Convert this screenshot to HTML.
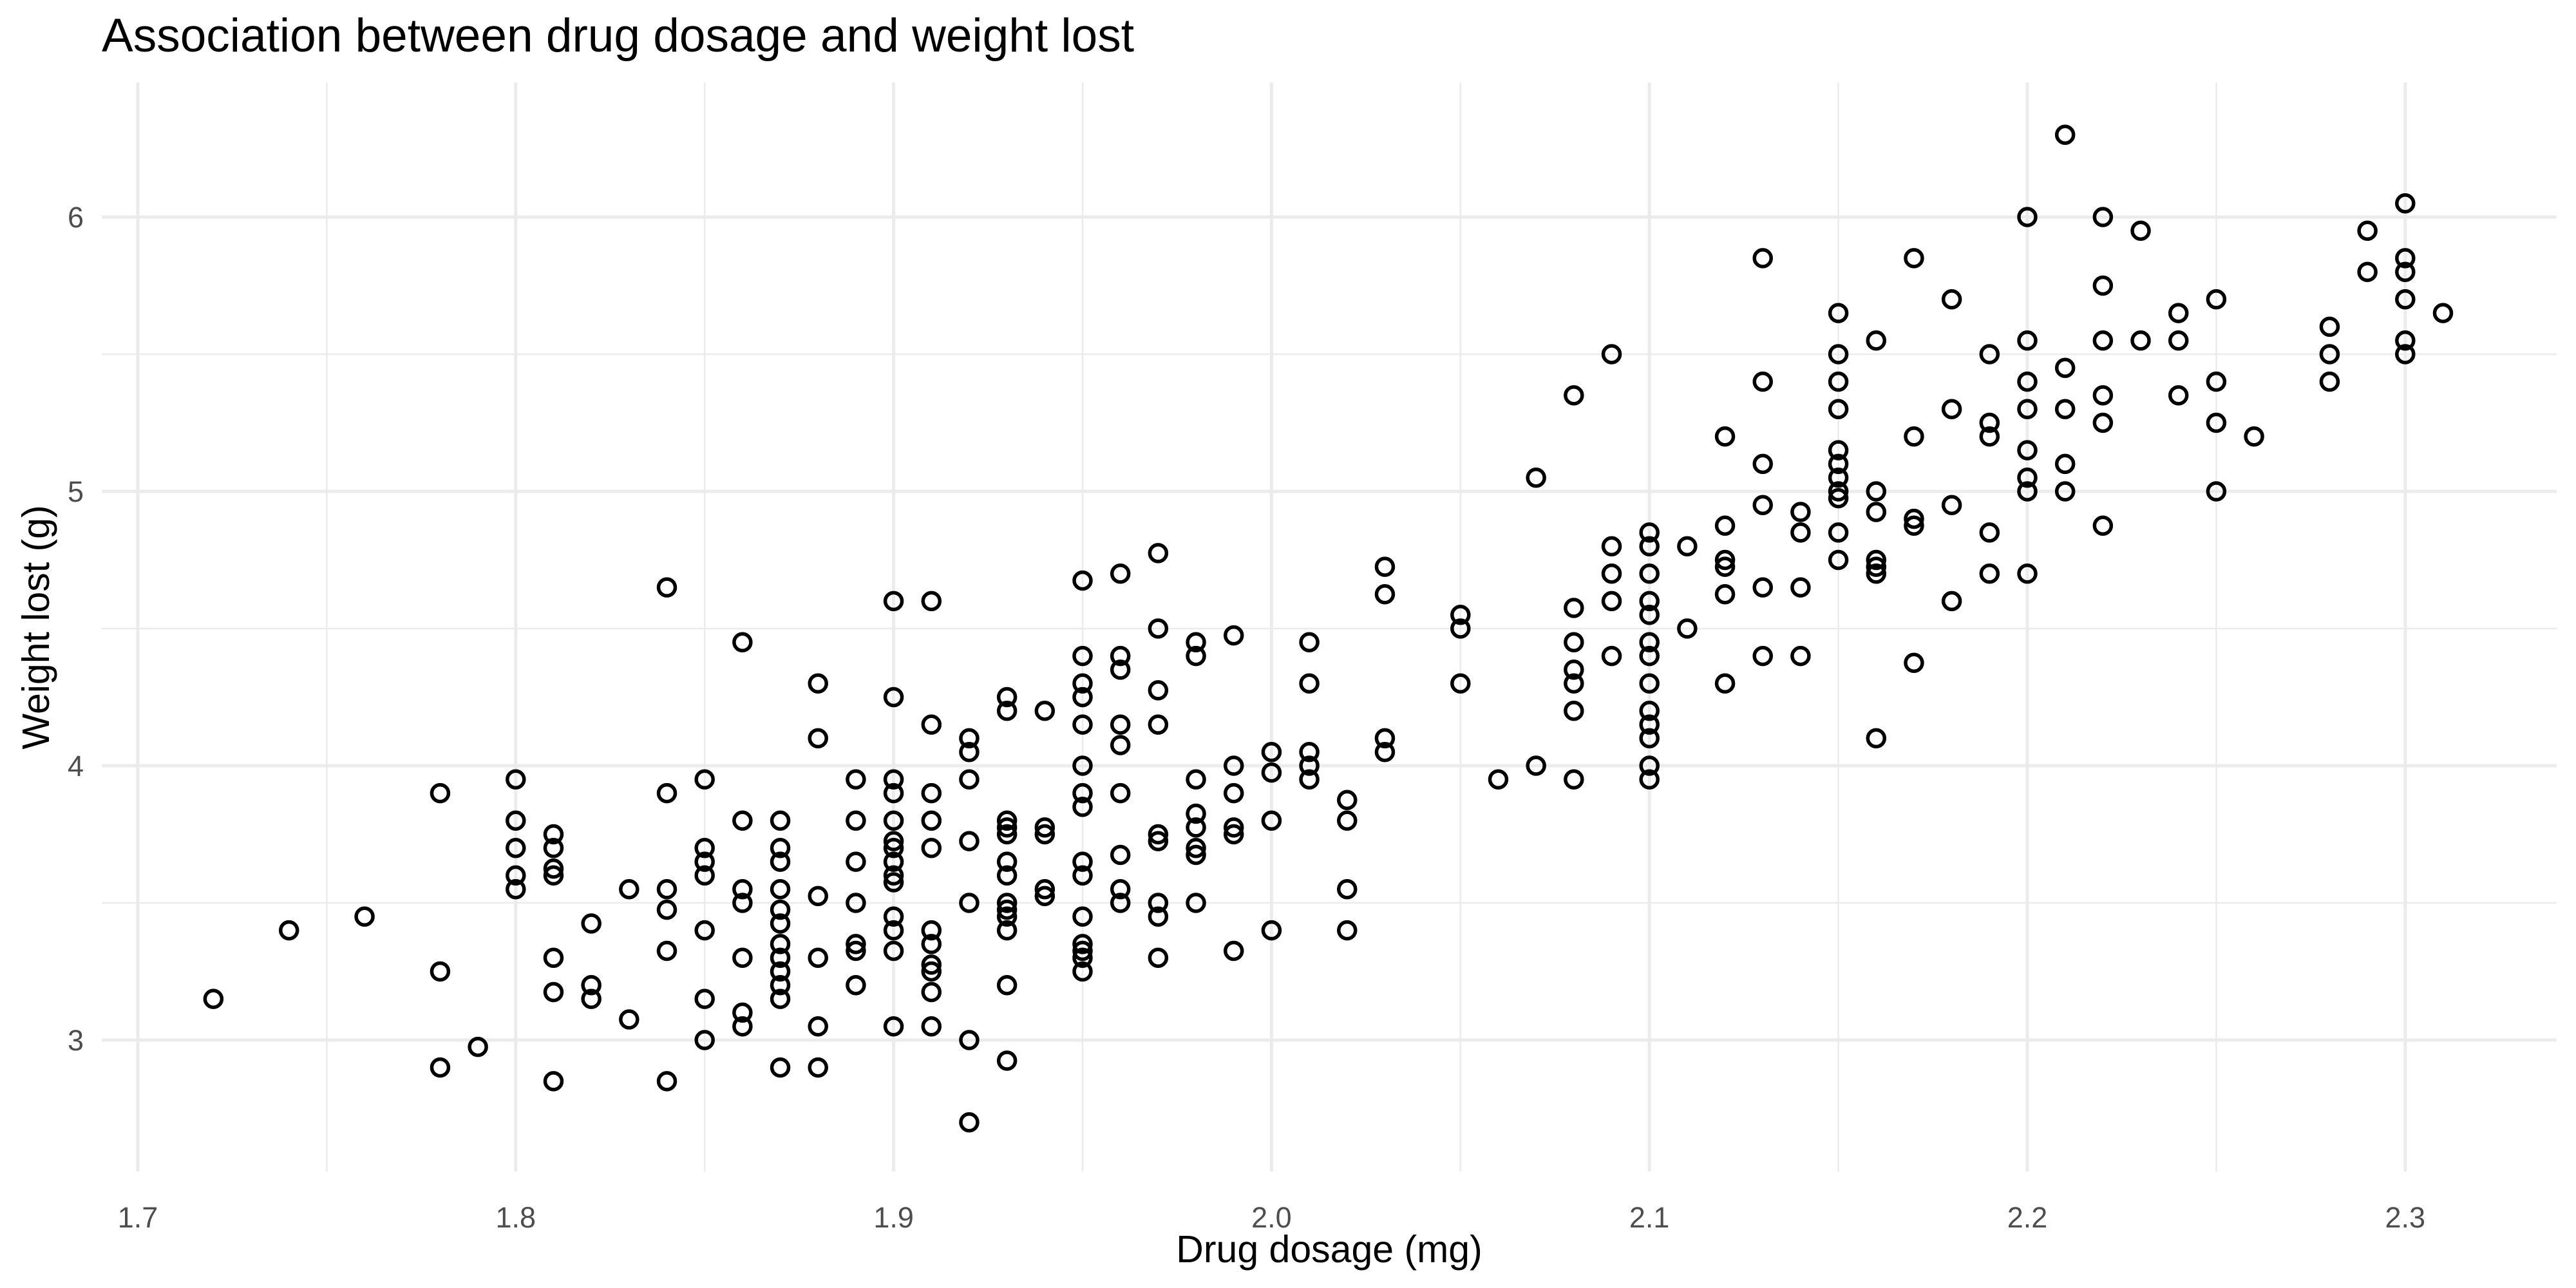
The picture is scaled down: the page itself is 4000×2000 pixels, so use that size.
<!DOCTYPE html>
<html><head><meta charset="utf-8"><style>
html,body{margin:0;padding:0;background:#fff;}
svg{display:block;font-family:"Liberation Sans",sans-serif;}
</style></head><body>
<svg id="chart" width="4000" height="2000" viewBox="0 0 4000 2000" xmlns="http://www.w3.org/2000/svg">
<rect x="0" y="0" width="4000" height="2000" fill="#fff"/>
<g id="grid"></g>
<g id="points"></g>
<g id="ticks"></g>
<text x="158" y="80" font-size="73" fill="#000">Association between drug dosage and weight lost</text>
<text x="2064" y="1960" font-size="59" fill="#000" text-anchor="middle">Drug dosage (mg)</text>
<text x="0" y="0" font-size="59" fill="#000" text-anchor="middle" transform="translate(76,974) rotate(-90)">Weight lost (g)</text>
</svg>
<script>
const xTicks = [1.7, 1.8, 1.9, 2.0, 2.1, 2.2, 2.3];
const xTickLabels = ["1.7","1.8","1.9","2.0","2.1","2.2","2.3"];
const xMinor = [1.75, 1.85, 1.95, 2.05, 2.15, 2.25];
const yTicks = [3, 4, 5, 6];
const yTickLabels = ["3","4","5","6"];
const yMinor = [3.5, 4.5, 5.5];
const dosage = [1.72,1.74,1.76,1.78,1.79,1.80,1.81,1.82,1.83,1.84,1.85,1.86,1.87,1.88,1.89,1.90,1.91,1.92,1.93,1.94,1.95,1.96,1.97,1.98,1.99,2.00,2.01,2.02,2.03,2.05,2.06,2.07,2.08,2.09,2.10,2.11,2.12,2.13,2.14,2.15,2.16,2.17,2.18,2.19,2.20,2.21,2.22,2.23,2.24,2.25,2.26,2.28,2.29,2.30,2.31];
const weightLost = [
[3.15],[3.40],[3.45],[3.90,3.25,2.90],[2.975],
[3.95,3.80,3.70,3.60,3.55],
[3.75,3.70,3.625,3.60,3.30,3.175,2.85],
[3.425,3.20,3.15],[3.55,3.075],
[4.65,3.90,3.55,3.475,3.325,2.85],
[3.95,3.70,3.65,3.60,3.40,3.15,3.00],
[4.45,3.80,3.55,3.50,3.30,3.10,3.05],
[3.80,3.70,3.65,3.55,3.475,3.425,3.35,3.30,3.25,3.20,3.15,2.90],
[4.30,4.10,3.525,3.30,3.05,2.90],
[3.95,3.80,3.65,3.50,3.35,3.325,3.20],
[4.60,4.25,3.95,3.90,3.80,3.725,3.70,3.65,3.60,3.575,3.45,3.40,3.325,3.05],
[4.60,4.15,3.90,3.80,3.70,3.40,3.35,3.275,3.25,3.175,3.05],
[4.10,4.05,3.95,3.725,3.50,3.00,2.70],
[4.25,4.20,3.80,3.775,3.75,3.65,3.60,3.50,3.475,3.45,3.40,3.20,2.925],
[4.20,3.775,3.75,3.55,3.525],
[4.675,4.40,4.30,4.25,4.15,4.00,3.90,3.85,3.65,3.60,3.45,3.35,3.325,3.30,3.25],
[4.70,4.40,4.35,4.15,4.075,3.90,3.675,3.55,3.50],
[4.775,4.50,4.275,4.15,3.75,3.725,3.50,3.45,3.30],
[4.45,4.40,3.95,3.825,3.775,3.70,3.675,3.50],
[4.475,4.00,3.90,3.775,3.75,3.325],
[4.05,3.975,3.80,3.40],
[4.45,4.30,4.05,4.00,3.95],
[3.875,3.80,3.55,3.40],
[4.725,4.625,4.10,4.05],
[4.55,4.50,4.30],[3.95],[5.05,4.00],
[5.35,4.575,4.45,4.35,4.30,4.20,3.95],
[5.50,4.80,4.70,4.60,4.40],
[4.85,4.80,4.70,4.60,4.55,4.45,4.40,4.30,4.20,4.15,4.10,4.00,3.95],
[4.80,4.50],
[5.20,4.875,4.75,4.725,4.625,4.30],
[5.85,5.40,5.10,4.95,4.65,4.40],
[4.925,4.85,4.65,4.40],
[5.65,5.50,5.40,5.30,5.15,5.10,5.05,5.00,4.975,4.85,4.75],
[5.55,5.00,4.925,4.75,4.725,4.70,4.10],
[5.85,5.20,4.90,4.875,4.375],
[5.70,5.30,4.95,4.60],
[5.50,5.25,5.20,4.85,4.70],
[6.00,5.55,5.40,5.30,5.15,5.05,5.00,4.70],
[6.30,5.45,5.30,5.10,5.00],
[6.00,5.75,5.55,5.35,5.25,4.875],
[5.95,5.55],[5.65,5.55,5.35],[5.70,5.40,5.25,5.00],[5.20],
[5.60,5.50,5.40],[5.95,5.80],
[6.05,5.85,5.80,5.70,5.55,5.50],[5.65]
];
const NS = "http://www.w3.org/2000/svg";
const X0 = 158, X1 = 3970, Y0 = 128, Y1 = 1819;
function sx(v){ return 214 + (v - 1.7) * 5868; }
function sy(v){ return 1615 - (v - 3) * 426; }
function mk(tag, attrs, parent){ const e = document.createElementNS(NS, tag); for (const k in attrs) e.setAttribute(k, attrs[k]); parent.appendChild(e); return e; }
const grid = document.getElementById('grid');
const pts = document.getElementById('points');
const ticks = document.getElementById('ticks');
xMinor.forEach(v => { const l = mk('line', {x1:sx(v), x2:sx(v), y1:Y0, y2:Y1, stroke:'#ebebeb', 'stroke-width':2.5}, grid);
  
   });
yMinor.forEach(v => { const l = mk('line', {x1:X0, x2:X1, y1:sy(v), y2:sy(v), stroke:'#ebebeb', 'stroke-width':2.5}, grid);
  
   });
xTicks.forEach((v, i) => { const l = mk('line', {x1:sx(v), x2:sx(v), y1:Y0, y2:Y1, stroke:'#ebebeb', 'stroke-width':5}, grid);
  
  
  const t = mk('text', {x:sx(v), y:1906, 'font-size':45, fill:'#4d4d4d', 'text-anchor':'middle'}, ticks);
  t.textContent = xTickLabels[i];
  
   });
yTicks.forEach((v, i) => { const l = mk('line', {x1:X0, x2:X1, y1:sy(v), y2:sy(v), stroke:'#ebebeb', 'stroke-width':5}, grid);
  
  
  const t = mk('text', {x:130, y:sy(v)+16, 'font-size':45, fill:'#4d4d4d', 'text-anchor':'end'}, ticks);
  t.textContent = yTickLabels[i];
  
   });
dosage.forEach((d, i) => { weightLost[i].forEach(w => {
  const c = mk('circle', {cx:sx(d), cy:sy(w), r:13, fill:'none', stroke:'#000', 'stroke-width':5.5}, pts);
  
   }); });
</script>
</body></html>
